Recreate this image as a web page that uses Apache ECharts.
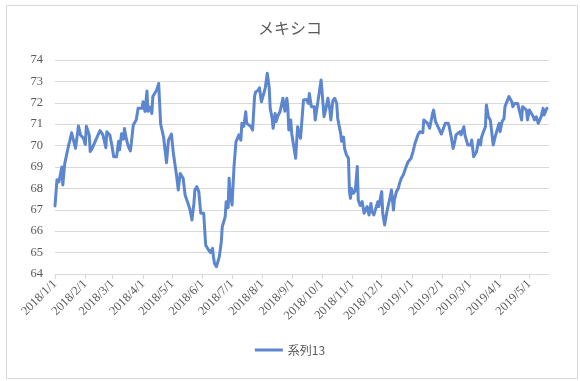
<!DOCTYPE html>
<html>
<head>
<meta charset="utf-8">
<script src="https://cdn.jsdelivr.net/npm/echarts@6/dist/echarts.min.js"></script>
<style>
html,body{margin:0;padding:0;background:#fff;}
#c{width:580px;height:381px;}
</style>
</head>
<body>
<div id="c"></div>
<script>
const titleText = 'メキシコ';
const seriesName = '系列13';
const axisStart = '2018-01-01';
const axisEnd = '2019-05-21';
const yTicks = { min: 64, max: 74, interval: 1 };

const dates = [
'2018-01-01','2018-01-03','2018-01-05','2018-01-08','2018-01-09','2018-01-11','2018-01-15','2018-01-16','2018-01-18','2018-01-20',
'2018-01-22','2018-01-25','2018-01-27','2018-01-30','2018-02-01','2018-02-02','2018-02-05','2018-02-06','2018-02-08','2018-02-10',
'2018-02-13','2018-02-16','2018-02-19','2018-02-22','2018-02-23','2018-02-26','2018-02-28','2018-03-02','2018-03-05','2018-03-07',
'2018-03-08','2018-03-10','2018-03-12','2018-03-13','2018-03-15','2018-03-17','2018-03-19','2018-03-20','2018-03-22','2018-03-24',
'2018-03-25','2018-03-27','2018-03-31','2018-04-01','2018-04-03','2018-04-05','2018-04-06','2018-04-08','2018-04-10','2018-04-11',
'2018-04-15','2018-04-17','2018-04-18','2018-04-19','2018-04-22','2018-04-25','2018-04-27','2018-04-30','2018-05-02','2018-05-05',
'2018-05-07','2018-05-09','2018-05-12','2018-05-14','2018-05-16','2018-05-17','2018-05-19','2018-05-21','2018-05-23','2018-05-24',
'2018-05-26','2018-05-28','2018-05-30','2018-06-02','2018-06-04','2018-06-05','2018-06-07','2018-06-09','2018-06-11','2018-06-12',
'2018-06-13','2018-06-15','2018-06-18','2018-06-20','2018-06-21','2018-06-24','2018-06-25','2018-06-27','2018-06-28','2018-06-29',
'2018-07-01','2018-07-03','2018-07-05','2018-07-06','2018-07-08','2018-07-10','2018-07-11','2018-07-13','2018-07-15','2018-07-16',
'2018-07-18','2018-07-20','2018-07-22','2018-07-24','2018-07-25','2018-07-28','2018-07-29','2018-07-31','2018-08-02','2018-08-04',
'2018-08-06','2018-08-08','2018-08-09','2018-08-11','2018-08-12','2018-08-14','2018-08-15','2018-08-17','2018-08-19','2018-08-21',
'2018-08-22','2018-08-24','2018-08-26','2018-08-27','2018-08-28','2018-08-30','2018-08-31','2018-09-02','2018-09-04','2018-09-06',
'2018-09-07','2018-09-09','2018-09-12','2018-09-15','2018-09-17','2018-09-18','2018-09-20','2018-09-23','2018-09-24','2018-09-26',
'2018-09-28','2018-09-30','2018-10-01','2018-10-03','2018-10-05','2018-10-07','2018-10-09','2018-10-10','2018-10-12','2018-10-14',
'2018-10-16','2018-10-17','2018-10-20','2018-10-21','2018-10-23','2018-10-24','2018-10-26','2018-10-28','2018-10-29','2018-10-30',
'2018-10-31','2018-11-02','2018-11-04','2018-11-06','2018-11-07','2018-11-09','2018-11-11','2018-11-13','2018-11-14','2018-11-16',
'2018-11-18','2018-11-20','2018-11-21','2018-11-23','2018-11-25','2018-11-27','2018-11-28','2018-12-01','2018-12-02','2018-12-04',
'2018-12-06','2018-12-07','2018-12-09','2018-12-11','2018-12-13','2018-12-14','2018-12-16','2018-12-18','2018-12-19','2018-12-21',
'2018-12-23','2018-12-25','2018-12-26','2018-12-28','2018-12-30','2018-12-31','2019-01-02','2019-01-04','2019-01-05','2019-01-07',
'2019-01-09','2019-01-12','2019-01-13','2019-01-15','2019-01-17','2019-01-19','2019-01-21','2019-01-22','2019-01-23','2019-01-25',
'2019-01-27','2019-01-29','2019-01-31','2019-02-02','2019-02-04','2019-02-07','2019-02-08','2019-02-10','2019-02-12','2019-02-14',
'2019-02-15','2019-02-17','2019-02-19','2019-02-20','2019-02-23','2019-02-24','2019-02-27','2019-03-02','2019-03-03','2019-03-05',
'2019-03-08','2019-03-10','2019-03-12','2019-03-13','2019-03-15','2019-03-17','2019-03-18','2019-03-20','2019-03-22','2019-03-24',
'2019-03-25','2019-03-27','2019-03-29','2019-03-31','2019-04-01','2019-04-03','2019-04-05','2019-04-06','2019-04-08','2019-04-10',
'2019-04-12','2019-04-13','2019-04-14','2019-04-16','2019-04-19','2019-04-21','2019-04-23','2019-04-24','2019-04-26','2019-04-28',
'2019-04-29','2019-05-01','2019-05-03','2019-05-05','2019-05-06','2019-05-08','2019-05-10','2019-05-11','2019-05-13','2019-05-15',
'2019-05-16','2019-05-18','2019-05-19'
];

const values = [
67.18,68.4,68.3,69.0,68.16,69.17,70.03,70.2,70.6,70.65,
69.87,70.92,70.5,70.35,70.05,70.9,70.5,69.72,69.87,69.8,
70.4,70.7,70.5,69.9,70.65,70.5,70.05,69.48,69.48,70.2,
69.8,70.55,70.3,70.8,70.3,69.95,69.75,70.1,70.96,71.04,
71.2,71.74,71.74,72.05,71.6,72.55,71.6,71.8,71.5,72.29,
72.6,72.9,72.85,71.0,70.4,69.2,70.26,70.54,69.64,68.7,
67.93,68.7,68.47,67.69,67.69,67.3,67.0,66.52,67.3,67.93,
68.08,67.85,66.84,66.84,65.36,65.3,65.12,65.0,65.2,64.81,
64.5,64.34,64.81,65.51,66.21,66.68,67.38,67.1,68.47,67.8,
67.22,69.02,70.18,70.25,70.5,70.25,71.04,70.9,71.58,71.04,
71.1,70.9,70.73,72.29,72.5,72.6,72.7,72.05,72.05,72.7,
73.38,72.7,71.74,71.27,70.81,71.5,71.12,71.4,71.58,71.66,
72.21,71.6,72.21,71.8,70.73,71.2,70.57,70.5,69.41,70.88,
70.65,70.34,72.13,72.15,71.97,72.44,71.82,71.82,71.2,71.82,
72.44,73.07,72.52,71.35,71.74,72.21,71.66,71.2,72.1,72.21,
71.97,71.27,70.57,70.2,70.4,69.87,69.56,69.41,67.85,67.54,
68.0,67.77,67.9,69.02,67.46,67.2,67.38,66.84,66.92,67.15,
66.76,67.3,66.92,66.76,66.84,67.38,67.15,67.85,66.84,66.29,
66.84,67.07,67.46,67.93,66.99,67.46,67.85,68.0,68.2,68.47,
68.63,68.55,69.02,69.25,69.25,69.41,69.72,70.1,70.18,70.5,
70.65,70.6,71.2,71.27,71.04,70.81,70.81,71.5,71.66,71.12,
71.12,70.73,70.54,70.57,71.04,71.04,70.88,70.42,69.87,70.26,
70.5,70.5,70.65,70.5,70.88,70.5,70.03,70.03,70.26,69.48,
69.72,70.26,70.03,70.38,70.65,70.88,71.9,71.35,71.2,71.12,
70.03,70.42,70.45,71.04,70.65,71.12,71.27,71.82,71.82,72.29,
72.21,72.05,71.82,71.97,71.97,71.97,71.2,71.82,71.9,71.66,
71.2,71.66,71.74,71.35,71.2,71.35,71.04,71.04,71.35,71.74,
71.43,71.66,71.74
];

// Build a continuous daily category axis so months are spaced by calendar days
function ymd(d){
  const m = d.getUTCMonth()+1, day = d.getUTCDate();
  return d.getUTCFullYear()+'-'+(m<10?'0':'')+m+'-'+(day<10?'0':'')+day;
}
const allDays = [];
{
  const s = new Date(axisStart+'T00:00:00Z'), e = new Date(axisEnd+'T00:00:00Z');
  for (let t = s.getTime(); t <= e.getTime(); t += 86400000) allDays.push(ymd(new Date(t)));
}
const valByDate = {};
dates.forEach((d,i)=>{ valByDate[d] = values[i]; });
const lineData = allDays.map(d => (d in valByDate) ? valByDate[d] : null);

const isMonthStart = (idx, val) => val.slice(8) === '01';
const fmtDate = v => { const p = v.split('-'); return p[0]+'/'+(+p[1])+'/'+(+p[2]); };

const chart = echarts.init(document.getElementById('c'), null, {renderer:'canvas'});
chart.setOption({
  animation: false,
  backgroundColor: '#ffffff',
  title: {
    text: titleText, left: 'center', top: 15,
    textStyle: { fontFamily: '"Noto Sans CJK JP", sans-serif', fontSize: 16, fontWeight: 'normal', color: '#595959' }
  },
  graphic: [{
    type: 'rect', left: 4, top: 3,
    shape: { width: 571, height: 373 },
    style: { fill: 'none', stroke: '#D9D9D9', lineWidth: 1 },
    silent: true, z: -1
  }],
  legend: {
    bottom: 20, left: 'center',
    icon: 'rect', itemWidth: 28, itemHeight: 3, itemGap: 10,
    textStyle: { fontFamily: '"Noto Sans CJK JP", sans-serif', fontSize: 12, color: '#595959' },
    data: [seriesName]
  },
  grid: { left: 55, right: 31, top: 60, bottom: 107, containLabel: false },
  xAxis: {
    type: 'category', data: allDays, boundaryGap: false,
    axisLine: { show: true, lineStyle: { color: '#D9D9D9' } },
    axisTick: { show: true, interval: isMonthStart, length: 5, lineStyle: { color: '#D9D9D9' } },
    axisLabel: {
      interval: isMonthStart, rotate: 45, formatter: fmtDate, margin: 8,
      fontFamily: '"Liberation Serif", serif', fontSize: 12.5, color: '#595959'
    },
    splitLine: { show: false }
  },
  yAxis: {
    type: 'value', min: yTicks.min, max: yTicks.max, interval: yTicks.interval,
    axisLine: { show: false }, axisTick: { show: false },
    axisLabel: { fontFamily: '"Liberation Serif", serif', fontSize: 12.5, color: '#595959', margin: 12 },
    splitLine: { lineStyle: { color: '#D9D9D9', width: 1 } }
  },
  series: [{
    name: seriesName, type: 'line', data: lineData, connectNulls: true,
    showSymbol: false, symbol: 'none',
    lineStyle: { color: '#5C86CF', width: 3, join: 'round', cap: 'round' },
    itemStyle: { color: '#5C86CF' }
  }]
});
</script>
</body>
</html>
